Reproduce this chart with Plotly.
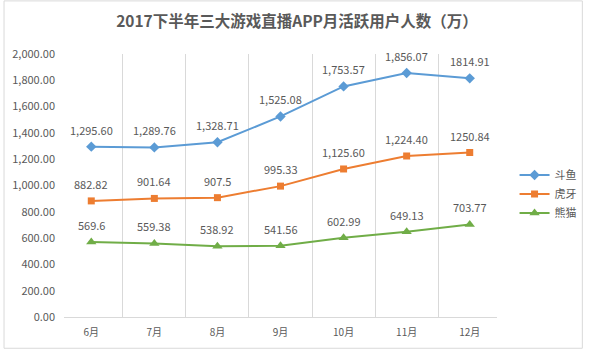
import plotly.graph_objects as go

months = ["6月", "7月", "8月", "9月", "10月", "11月", "12月"]
douyu = [1295.60, 1289.76, 1328.71, 1525.08, 1753.57, 1856.07, 1814.91]
huya = [882.82, 901.64, 907.5, 995.33, 1125.60, 1224.40, 1250.84]
panda = [569.6, 559.38, 538.92, 541.56, 602.99, 649.13, 703.77]
douyu_lbl = ["1,295.60", "1,289.76", "1,328.71", "1,525.08", "1,753.57", "1,856.07", "1814.91"]
huya_lbl = ["882.82", "901.64", "907.5", "995.33", "1,125.60", "1,224.40", "1250.84"]
panda_lbl = ["569.6", "559.38", "538.92", "541.56", "602.99", "649.13", "703.77"]
y_ticks = [0, 200, 400, 600, 800, 1000, 1200, 1400, 1600, 1800, 2000]

FONT = "Noto Sans CJK SC"
GRAY = "#595959"

fig = go.Figure()
series = [
    ("斗鱼", douyu, douyu_lbl, "#5B9BD5", "diamond", 8),
    ("虎牙", huya, huya_lbl, "#ED7D31", "square", 7),
    ("熊猫", panda, panda_lbl, "#70AD47", "triangle-up", 9),
]
annotations = []
for name, vals, lbl, color, sym, sz in series:
    fig.add_trace(go.Scatter(
        x=months, y=vals, name=name, mode="lines+markers",
        line=dict(color=color, width=2),
        marker=dict(symbol=sym, size=sz, color=color),
        cliponaxis=False,
    ))
    for m, v, t in zip(months, vals, lbl):
        annotations.append(dict(x=m, y=v, text=t, showarrow=False,
                                yshift=17, xanchor="center", yanchor="middle",
                                font=dict(family=FONT, size=11, color=GRAY)))

L, R, T, B = 62, 88, 54, 32
W, H = 594, 351
pw, ph = W - L - R, H - T - B

fig.update_layout(
    width=W, height=H,
    margin=dict(l=L, r=R, t=T, b=B),
    paper_bgcolor="white", plot_bgcolor="white",
    title=dict(text="<b>2017下半年三大游戏直播APP月活跃用户人数（万）</b>",
               x=0.5, xanchor="center", y=1 - 22 / H, yanchor="middle",
               font=dict(family=FONT, size=15.5, color=GRAY)),
    xaxis=dict(type="category", tickson="boundaries", showgrid=True,
               gridcolor="#D9D9D9", gridwidth=1, showline=True,
               linecolor="#D9D9D9", ticks="", zeroline=False,
               ticklabelstandoff=6,
               tickfont=dict(family=FONT, size=10, color=GRAY)),
    yaxis=dict(range=[0, 2000], tickvals=y_ticks, tickformat=",.2f",
               showgrid=False, zeroline=False, showline=False, ticks="",
               ticklabelstandoff=8,
               tickfont=dict(family=FONT, size=11, color=GRAY)),
    legend=dict(x=(524 - L) / pw, y=(319 - 195) / ph, xanchor="left",
                yanchor="middle", bgcolor="rgba(0,0,0,0)",
                font=dict(family=FONT, size=11, color=GRAY),
                itemwidth=30, tracegroupgap=2),
    showlegend=True,
    annotations=annotations,
    shapes=[dict(type="rect", xref="paper", yref="paper",
                 x0=(0.5 - L) / pw, x1=(W - 0.5 - L) / pw,
                 y0=(0.5 - B) / ph, y1=(H - B - 0.5) / ph,
                 line=dict(color="#D9D9D9", width=1), fillcolor="rgba(0,0,0,0)",
                 layer="below")],
)

fig.write_html("out.html")
